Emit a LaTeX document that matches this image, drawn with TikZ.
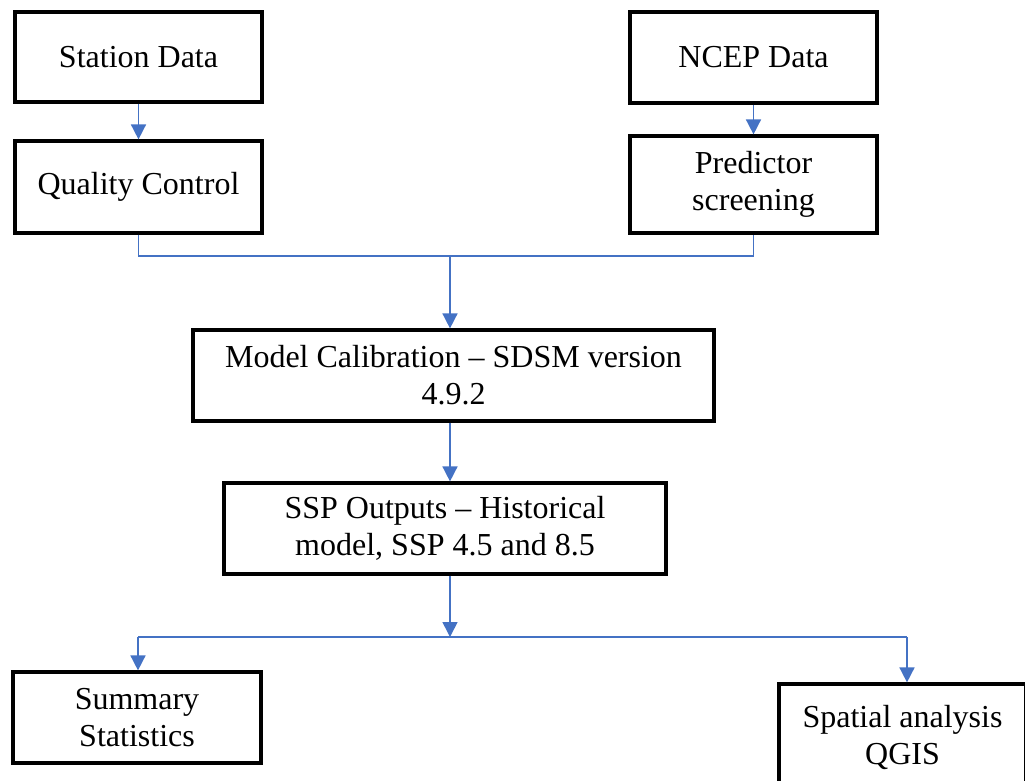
\documentclass[tikz,border=0pt]{standalone}
\usepackage{fontspec}
\setmainfont{Liberation Serif}
\usetikzlibrary{arrows.meta}
\definecolor{flowblue}{HTML}{4472C4}
\begin{document}
\begin{tikzpicture}[x=1pt,y=-1pt,
  box/.style={draw=black,line width=3.2pt,rectangle,inner sep=0pt,align=center,
    font=\fontsize{32}{37}\selectfont},
  link/.style={draw=flowblue,line width=1.6pt},
  arr/.style={link,-{Triangle[width=15pt,length=15pt]}}]
\useasboundingbox (0,0) rectangle (1025,780);
\begin{scope}
\clip (0,0) rectangle (1025,780);
% input boxes
\node[box,minimum width=247pt,minimum height=90pt] (sd) at (138.5,57) {Station Data};
\node[box,minimum width=247pt,minimum height=92pt] (qc) at (138.5,187) {Quality Control};
\node[box,minimum width=247pt,minimum height=91pt] (ncep) at (753.5,57.5) {NCEP Data};
\node[box,minimum width=247pt,minimum height=97pt] (ps) at (753.5,184.5) {Predictor\\screening};
% model chain
\node[box,minimum width=521pt,minimum height=91pt] (mc) at (453.5,375.5) {Model Calibration -- SDSM version\\4.9.2};
\node[box,minimum width=442pt,minimum height=91pt] (ssp) at (445,528.5) {SSP Outputs -- Historical\\model, SSP 4.5 and 8.5};
% outputs
\node[box,minimum width=248pt,minimum height=91pt] (ss) at (137,717.5) {Summary\\Statistics};
\node[box,minimum width=247pt,minimum height=106pt] (sa) at (902.5,737) {Spatial analysis\\QGIS};
% junction points
\coordinate (jm) at (450,256);
\coordinate (js) at (450,637);
\coordinate (sl) at (138,637);
\coordinate (sr) at (907,637);
% connectors
\draw[arr] (sd) -- (qc);
\draw[arr] (ncep) -- (ps);
\draw[link] (qc.south) -- (qc.south |- jm) -- (ps.south |- jm) -- (ps.south);
\draw[arr] (jm) -- (jm |- mc.north);
\draw[arr] (mc.south -| jm) -- (ssp.north -| jm);
\draw[arr] (ssp.south -| js) -- (js);
\draw[link] (sl) -- (sr);
\draw[arr] (sl) -- (sl |- ss.north);
\draw[arr] (sr) -- (sr |- sa.north);
\end{scope}
\end{tikzpicture}
\end{document}
